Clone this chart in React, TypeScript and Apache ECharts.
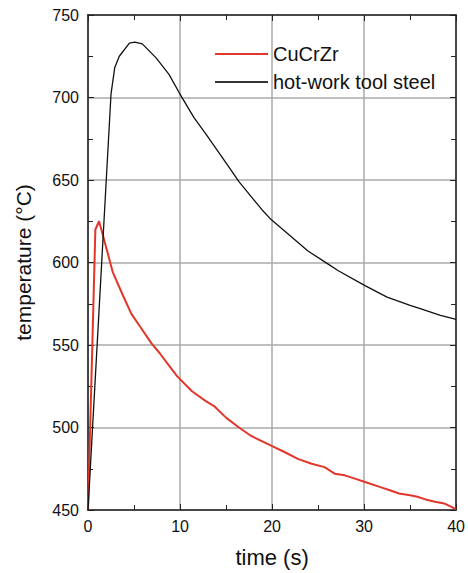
import React, { useEffect, useRef } from "react";
import * as echarts from "echarts";

// Time (s) and temperature (°C) samples for each material
const cuCrZrTime = [0, 0.8, 1.2, 1.6, 2.7, 3.8, 4.7, 5.8, 6.9, 7.8, 8.6, 9.7, 11.3, 12.8, 13.7, 15, 16.4, 17.7, 19.9, 21.4, 22.8, 24.3, 25.7, 26.8, 27.9, 29, 30.1, 31.7, 32.8, 33.8, 35, 35.8, 36.9, 37.7, 38.7, 40];
const cuCrZrTemp = [450, 620, 625, 617, 594, 580, 569, 560, 551, 545, 539, 531, 522, 516, 513, 506, 500, 495, 489, 485, 481, 478, 476, 472, 471, 469, 467, 464, 462, 460, 459, 458, 456, 455, 454, 450.5];

const steelTime = [0, 2.5, 2.9, 3.4, 4.5, 5.1, 5.9, 7.4, 8.8, 9.9, 11.5, 12.8, 15.3, 16.4, 18.9, 19.9, 22, 23.9, 26.1, 27.2, 30.1, 32.5, 35, 36.1, 38.3, 40];
const steelTemp = [450, 702, 718, 725, 733, 733.5, 732.5, 724, 714, 703, 688, 678, 658, 649, 632, 626, 616, 607, 599, 595, 586, 579, 574, 572, 568, 565.5];

const seriesNames = ["CuCrZr", "hot-work tool steel"];
const xTicks = { min: 0, max: 40, interval: 10 };
const yTicks = { min: 450, max: 750, interval: 50 };

const FONT = "Liberation Sans, Arial, Helvetica, sans-serif";

function pairs(xs: number[], ys: number[]) {
  return xs.map((x, i) => [x, ys[i]]);
}

export default function App() {
  const ref = useRef<HTMLDivElement>(null);

  useEffect(() => {
    if (!ref.current) return;
    const chart = echarts.init(ref.current, undefined, { renderer: "svg" });

    const tickCommon = {
      axisTick: { show: true, inside: true, length: 6, lineStyle: { color: "#222", width: 1 } },
      minorTick: { show: true, splitNumber: 2, length: 5, lineStyle: { color: "#222", width: 1 } },
    };

    chart.setOption({
      animation: false,
      backgroundColor: "#fff",
      grid: { left: 88, top: 15, right: 9, bottom: 58, containLabel: false },
      legend: {
        left: 210,
        top: 38,
        orient: "vertical",
        itemWidth: 53,
        itemHeight: 2,
        itemGap: 6,
        icon: "rect",
        textStyle: { fontFamily: FONT, fontSize: 20, color: "#111", lineHeight: 22 },
        data: [
          { name: seriesNames[0], itemStyle: { color: "#e2362a" } },
          { name: seriesNames[1], itemStyle: { color: "#333" } },
        ],
      },
      xAxis: [
        {
          type: "value",
          ...xTicks,
          position: "bottom",
          axisLine: { show: true, onZero: false, lineStyle: { color: "#222", width: 1.5 } },
          ...tickCommon,
          axisLabel: { fontFamily: FONT, fontSize: 16, color: "#111", margin: 8 },
          splitLine: { show: true, lineStyle: { color: "#aaa", width: 1.5 } },
          name: "time (s)",
          nameLocation: "middle",
          nameGap: 36,
          nameTextStyle: { fontFamily: FONT, fontSize: 22, color: "#111" },
        },
        {
          type: "value",
          ...xTicks,
          position: "top",
          axisLine: { show: true, onZero: false, lineStyle: { color: "#222", width: 1.5 } },
          ...tickCommon,
          axisLabel: { show: false },
          splitLine: { show: false },
        },
      ],
      yAxis: [
        {
          type: "value",
          ...yTicks,
          position: "left",
          axisLine: { show: true, onZero: false, lineStyle: { color: "#444", width: 2 } },
          ...tickCommon,
          axisLabel: { fontFamily: FONT, fontSize: 16, color: "#111", margin: 9 },
          splitLine: { show: true, lineStyle: { color: "#aaa", width: 1.5 } },
          name: "temperature (\u00b0C)",
          nameLocation: "middle",
          nameGap: 54,
          nameTextStyle: { fontFamily: FONT, fontSize: 21, color: "#111" },
        },
        {
          type: "value",
          ...yTicks,
          position: "right",
          axisLine: { show: true, onZero: false, lineStyle: { color: "#222", width: 1.5 } },
          ...tickCommon,
          axisLabel: { show: false },
          splitLine: { show: false },
        },
      ],
      series: [
        {
          name: seriesNames[0],
          type: "line",
          data: pairs(cuCrZrTime, cuCrZrTemp),
          showSymbol: false,
          symbol: "none",
          lineStyle: { color: "#e2362a", width: 2 },
          itemStyle: { color: "#e2362a" },
          z: 3,
        },
        {
          name: seriesNames[1],
          type: "line",
          data: pairs(steelTime, steelTemp),
          showSymbol: false,
          symbol: "none",
          lineStyle: { color: "#111", width: 1.3 },
          itemStyle: { color: "#333" },
          z: 4,
        },
      ],
    });

    return () => chart.dispose();
  }, []);

  return <div ref={ref} style={{ width: 468, height: 573, position: "absolute", left: 0, top: 0 }} />;
}
